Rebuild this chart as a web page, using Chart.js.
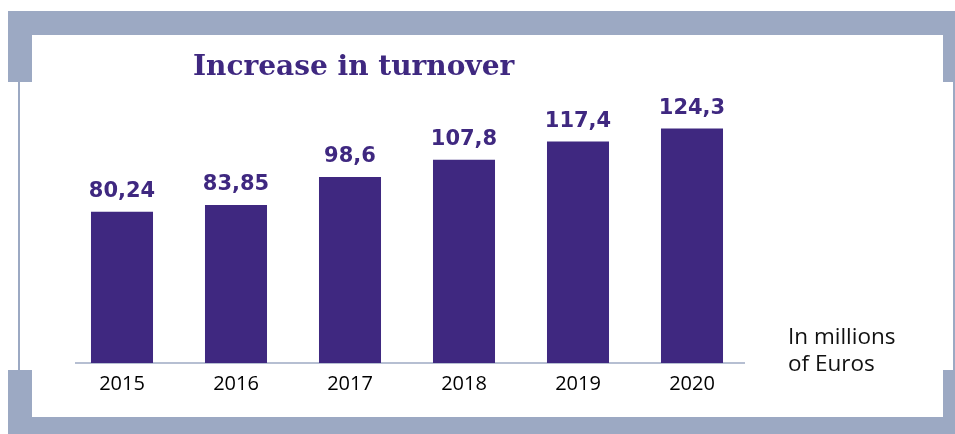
<!DOCTYPE html>
<html>
<head>
<meta charset="utf-8">
<script src="https://cdn.jsdelivr.net/npm/chart.js@4"></script>
<style>
  html,body{margin:0;padding:0;background:#fff;}
  #wrap{position:relative;width:955px;height:434px;overflow:hidden;background:#fff;}
  .band{position:absolute;background:#9CA9C3;}
  canvas{position:absolute;left:0;top:0;}
  #title{position:absolute;left:193px;top:49px;font-family:"DejaVu Serif",serif;font-weight:bold;font-size:28px;color:#3F2880;white-space:nowrap;line-height:34px;}
  #unit{position:absolute;left:788px;top:322px;font-family:"Open Sans",sans-serif;font-size:22.5px;line-height:27px;color:#111;}
</style>
</head>
<body>
<div id="wrap">
  <div class="band" style="left:8px;top:11px;width:947px;height:24px;"></div>
  <div class="band" style="left:8px;top:11px;width:24px;height:71px;"></div>
  <div class="band" style="left:18px;top:82px;width:2px;height:288px;"></div>
  <div class="band" style="left:8px;top:370px;width:24px;height:64px;"></div>
  <div class="band" style="left:8px;top:417px;width:947px;height:17px;"></div>
  <div class="band" style="left:943px;top:11px;width:12px;height:71px;"></div>
  <div class="band" style="left:953px;top:82px;width:2px;height:288px;"></div>
  <div class="band" style="left:943px;top:370px;width:12px;height:64px;"></div>
  <canvas id="c" width="955" height="434"></canvas>
  <div id="title">Increase in turnover</div>
  <div id="unit">In millions<br>of Euros</div>
</div>
<script>
const years = ["2015", "2016", "2017", "2018", "2019", "2020"];
const turnover = [80.24, 83.85, 98.6, 107.8, 117.4, 124.3];
const valueLabels = ["80,24", "83,85", "98,6", "107,8", "117,4", "124,3"];

const labelPlugin = {
  id: 'valueLabels',
  beforeDatasetsDraw(chart) {
    const ctx = chart.ctx;
    const a = chart.chartArea;
    ctx.save();
    ctx.strokeStyle = '#B6BFD2';
    ctx.lineWidth = 2;
    ctx.beginPath();
    ctx.moveTo(a.left + 10, a.bottom);
    ctx.lineTo(a.right - 4, a.bottom);
    ctx.stroke();
    ctx.restore();
  },
  afterDatasetsDraw(chart) {
    const ctx = chart.ctx;
    const meta = chart.getDatasetMeta(0);
    ctx.save();
    ctx.font = 'bold 21px "DejaVu Sans", sans-serif';
    ctx.fillStyle = '#3F2880';
    ctx.textAlign = 'center';
    ctx.textBaseline = 'alphabetic';
    meta.data.forEach((bar, i) => {
      ctx.fillText(valueLabels[i], bar.x, bar.y - 15);
    });
    ctx.restore();
  }
};

new Chart(document.getElementById('c'), {
  type: 'bar',
  data: {
    labels: years,
    datasets: [{
      data: turnover,
      backgroundColor: '#3F2880',
      borderWidth: 0,
      barPercentage: 0.544,
      categoryPercentage: 1.0
    }]
  },
  options: {
    responsive: false,
    animation: false,
    layout: { padding: { left: 65, right: 206, top: 99, bottom: 0 } },
    plugins: { legend: { display: false }, tooltip: { enabled: false }, title: { display: false } },
    scales: {
      x: {
        grid: { display: false, drawTicks: false },
        border: { display: false },
        ticks: { color: '#000', font: { family: '"Open Sans", sans-serif', size: 20 }, padding: 9 },
        afterFit(s) { s.height = 71; }
      },
      y: {
        display: false,
        min: 0,
        max: 140
      }
    }
  },
  plugins: [labelPlugin]
});
</script>
</body>
</html>
